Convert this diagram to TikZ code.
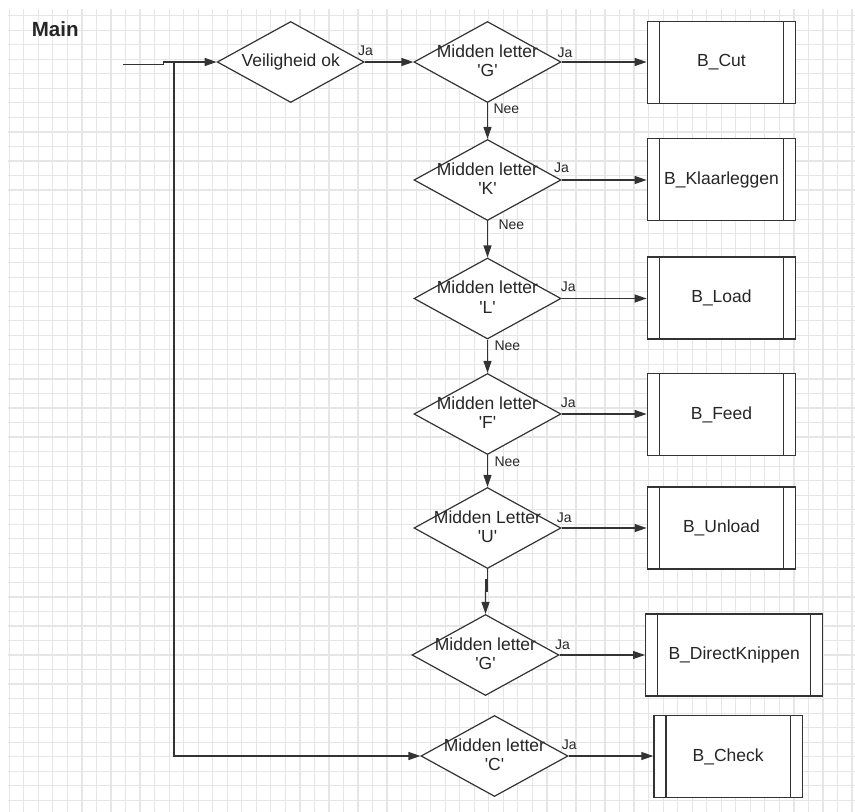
\documentclass[tikz,border=0pt]{standalone}
\usepackage{fontspec}
\setmainfont{Liberation Sans}
\usetikzlibrary{shapes.geometric,arrows.meta}
\definecolor{gridc}{HTML}{E6E6E6}
\definecolor{linec}{HTML}{333333}
\definecolor{textc}{HTML}{262626}
\newcommand{\fsMain}{\fontsize{17.5}{19.5}\selectfont}
\newcommand{\fsLab}{\fontsize{14}{16}\selectfont}
\newcommand{\fsTitle}{\fontsize{20.5}{23}\selectfont}
\begin{document}
\begin{tikzpicture}[x=1pt,y=-1pt,
  dia/.style={draw=linec,fill=white,line width=1.2pt,diamond,minimum width=147pt,minimum height=81pt,inner sep=0pt},
  dtext/.style={font=\fsMain,text=textc,align=center,inner sep=0pt},
  sub/.style={draw=linec,fill=white,line width=1.4pt,rectangle,inner sep=0pt,minimum width=#1,minimum height=82pt,font=\fsMain,text=textc,
    path picture={\draw[linec,line width=1.4pt]
      ([xshift=12pt]path picture bounding box.north west) -- ([xshift=12pt]path picture bounding box.south west)
      ([xshift=-12pt]path picture bounding box.north east) -- ([xshift=-12pt]path picture bounding box.south east);}},
  sub/.default=148.4pt,
  lab/.style={anchor=base west,inner sep=0pt,font=\fsLab,text=textc},
  conn/.style={draw=linec,line width=1.2pt},
  arr/.style={conn,-{Triangle[length=12pt,width=8pt]}},
  gridline/.style={draw=gridc,line width=1.2pt}]
\useasboundingbox (0,0) rectangle (855,812);
\fill[white] (0,0) rectangle (855,812);
% grid
\foreach \k in {0,...,58} \draw[gridline] ({9.3+14.53*\k},9) -- ({9.3+14.53*\k},812);
\foreach \k in {0,...,54} \draw[gridline] (8,{15.7+14.53*\k}) -- (855,{15.7+14.53*\k});
% title
\node[anchor=base west,inner sep=0pt,font=\fsTitle\bfseries,text=textc] (title) at (31.7,36) {Main};
% diamonds
\node[dia] (d0) at (290.7,62) {};
\node[dtext,yshift=0pt] (d0t) at (d0) {Veiligheid ok};
\node[dia] (g1) at (487.5,62) {};
\node[dtext,yshift=1.5pt] (g1t) at (g1) {Midden letter\\\textquotesingle G\textquotesingle};
\node[dia] (k) at (487.5,180) {};
\node[dtext,yshift=1.5pt] (kt) at (k) {Midden letter\\\textquotesingle K\textquotesingle};
\node[dia] (l) at (487.5,298.5) {};
\node[dtext,yshift=1.5pt] (lt) at (l) {Midden letter\\\textquotesingle L\textquotesingle};
\node[dia] (f) at (487.5,414) {};
\node[dtext,yshift=1.5pt] (ft) at (f) {Midden letter\\\textquotesingle F\textquotesingle};
\node[dia] (u) at (487.5,528) {};
\node[dtext,yshift=1.5pt] (ut) at (u) {Midden Letter\\\textquotesingle U\textquotesingle};
\node[dia] (g2) at (485.5,655) {};
\node[dtext,yshift=1.5pt] (g2t) at (g2) {Midden letter\\\textquotesingle G\textquotesingle};
\node[dia] (c) at (494.5,756) {};
\node[dtext,yshift=1.5pt] (ct) at (c) {Midden letter\\\textquotesingle C\textquotesingle};
% boxes
\node[sub] (bcut) at (721.5,62.5) {B\_Cut};
\node[sub] (bklaar) at (721.5,179.7) {B\_Klaarleggen};
\node[sub] (bload) at (721.5,297.8) {B\_Load};
\node[sub] (bfeed) at (721.5,414.5) {B\_Feed};
\node[sub] (bunload) at (721.5,528) {B\_Unload};
\node[sub=177pt] (bdirect) at (734.2,655) {B\_DirectKnippen};
\node[sub] (bcheck) at (728.2,756.5) {B\_Check};
% entry
\coordinate (st) at (122.7,64.7);
\coordinate (jog) at (163.3,62);
\coordinate (j) at (174,62);
\draw[arr] (st) -| (jog) -- (d0.west);
\draw[arr] (j) |- (c.west);
% Ja connectors
\draw[arr] (d0.east) -- (g1.west);
\draw[arr] (g1.east) -- (g1.east -| bcut.west);
\draw[arr] (k.east) -- (k.east -| bklaar.west);
\draw[arr] (l.east) -- (l.east -| bload.west);
\draw[arr] (f.east) -- (f.east -| bfeed.west);
\draw[arr] (u.east) -- (u.east -| bunload.west);
\draw[arr] (g2.east) -- (g2.east -| bdirect.west);
\draw[arr] (c.east) -- (c.east -| bcheck.west);
% Nee connectors
\draw[arr] (g1.south) -- (k.north);
\draw[arr] (k.south) -- (l.north);
\draw[arr] (l.south) -- (f.north);
\draw[arr] (f.south) -- (u.north);
\coordinate (uj) at (487.5,579);
\coordinate (ujb) at (486.3,592);
\draw[conn] (u.south) -- (uj);
\draw[draw=linec,line width=2.4pt] (uj -| ujb) -- (ujb);
\draw[arr] (uj -| ujb) -- (ujb -| g2.north) -- (g2.north);
% labels
\node[lab] (ja0) at (358,55) {Ja};
\node[lab] (ja1) at (557.3,57.3) {Ja};
\node[lab] (ja2) at (554,172.7) {Ja};
\node[lab] (ja3) at (560.7,291) {Ja};
\node[lab] (ja4) at (560.7,407.7) {Ja};
\node[lab] (ja5) at (556.7,522.7) {Ja};
\node[lab] (ja6) at (555,649.3) {Ja};
\node[lab] (ja7) at (561.7,749) {Ja};
\node[lab] (nee1) at (493.3,113.3) {Nee};
\node[lab] (nee2) at (498.3,229) {Nee};
\node[lab] (nee3) at (494.3,350) {Nee};
\node[lab] (nee4) at (494.3,466) {Nee};
\end{tikzpicture}
\end{document}
